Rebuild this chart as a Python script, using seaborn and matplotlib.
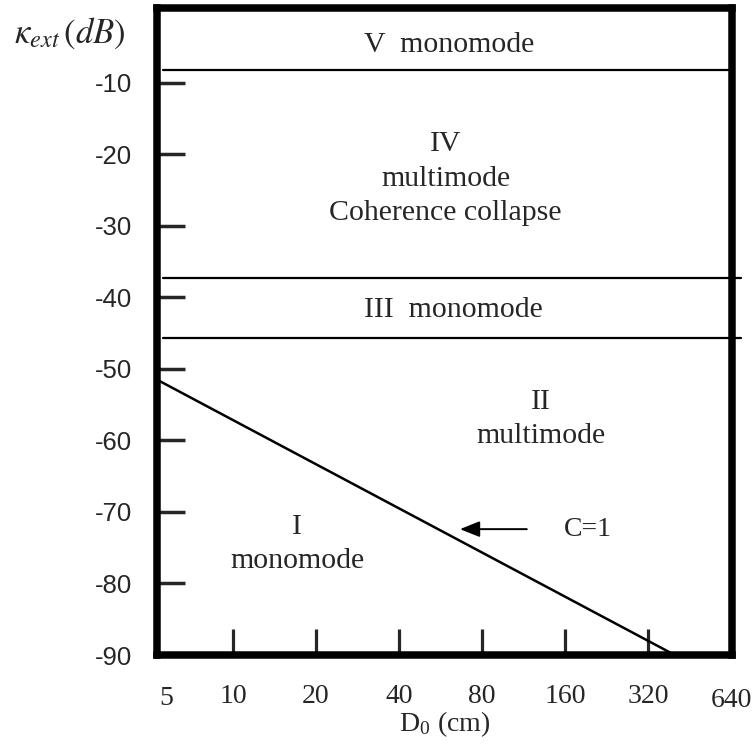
import matplotlib
matplotlib.use("Agg")
import matplotlib.pyplot as plt
import seaborn as sns
import pandas as pd

# data
x_ticks = [10, 20, 40, 80, 160, 320]
x_tick_labels = ["10", "20", "40", "80", "160", "320"]
x_end_labels = ["5", "640"]
y_ticks = [-10, -20, -30, -40, -50, -60, -70, -80, -90]
y_tick_labels = ["-10", "-20", "-30", "-40", "-50", "-60", "-70", "-80", "-90"]

# region borders (dB)
borders = [-8.2, -37.3, -45.7]

# C=1 line
d_c1 = [5.3, 400]
k_c1 = [-51.5, -90.0]

# region labels: text, D0, kappa
region_text = ["V  monomode", "IV\nmultimode\nCoherence collapse",
               "III  monomode", "II\nmultimode", "I\nmonomode"]
region_x = [61, 59, 63, 131, 17.1]
region_y = [-4.7, -23.4, -41.7, -57.0, -74.5]

sns.set_theme(style="white")
plt.rcParams["font.family"] = ["Liberation Serif", "DejaVu Serif"]
plt.rcParams["mathtext.fontset"] = "stix"

fig = plt.figure(figsize=(7.54, 7.44), dpi=100)
ax = fig.add_axes([0.2082, 0.1196, 0.7626, 0.869])

df = pd.DataFrame({"D": d_c1, "k": k_c1})
sns.lineplot(data=df, x="D", y="k", ax=ax, color="black", lw=1.8)

ax.set_xscale("log", base=2)
ax.set_xlim(5.3, 645)
ax.set_ylim(-90, 0.4)

# region borders
ax.axhline(borders[0], xmin=0.01, xmax=1.0, color="black", lw=1.6)
for b in borders[1:]:
    ax.axhline(b, xmin=0.01, xmax=1.015, color="black", lw=1.6, clip_on=False)

for t, x, y in zip(region_text, region_x, region_y):
    ax.text(x, y, t, ha="center", va="center", fontsize=21.5, linespacing=1.42)

# arrow and C=1
ax.annotate("", xy=(65, -72.4), xytext=(119, -72.4),
            arrowprops=dict(arrowstyle="-|>,head_length=1.0,head_width=0.4",
                            color="black", lw=1.4))
ax.text(194, -72.4, "C=1", ha="center", va="center", fontsize=20)

# frame and ticks
for s in ax.spines.values():
    s.set_linewidth(5.4)
    s.set_color("black")

ax.set_xticks(x_ticks, labels=x_tick_labels)
ax.minorticks_off()
ax.set_yticks(y_ticks, labels=y_tick_labels)
ax.tick_params(axis="x", direction="in", length=19, width=2.3, pad=21,
               labelsize=20, bottom=True, left=False)
ax.tick_params(axis="y", direction="in", length=20, width=2.5, pad=18,
               labelsize=18.5, left=True)
for lab in ax.get_yticklabels():
    lab.set_family("Liberation Sans")

# end labels 5 and 640 (no tick marks in the original)
ax.text(5.75, -94.4, x_end_labels[0], ha="center", va="top", fontsize=20,
        clip_on=False)
ax.text(765, -94.6, x_end_labels[1], ha="right", va="top", fontsize=20,
        clip_on=False)

ax.set_xlabel(r"D$_{\mathregular{0}}$ (cm)", fontsize=20, labelpad=0)
ax.set_ylabel("")
fig.text(0.093, 0.955, r"$\kappa_{ext}\,(dB)$", ha="center", va="center",
         fontsize=25)

fig.savefig("out.png", dpi=100, facecolor="white")
